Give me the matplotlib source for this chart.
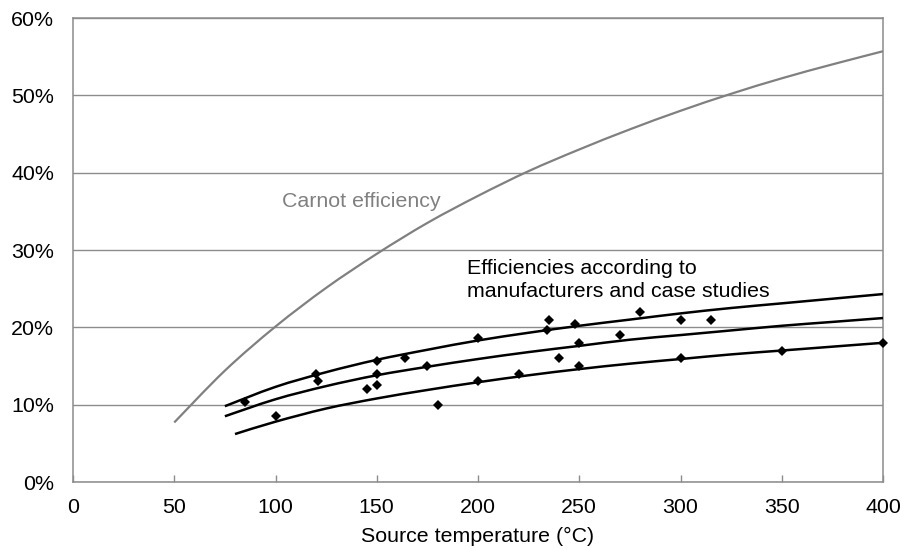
import numpy as np
import matplotlib
matplotlib.use("Agg")
import matplotlib.pyplot as plt
from matplotlib.path import Path
from matplotlib.patches import PathPatch
from matplotlib.ticker import FuncFormatter

plt.rcParams['font.family'] = ['Liberation Sans', 'DejaVu Sans']

# Carnot efficiency by source temperature (°C), in %
carnot_t = [50, 75, 100, 125, 150, 175, 200, 225, 250, 275, 300, 325, 350, 375, 400]
carnot_eff = [7.7, 14.4, 20.1, 25.1, 29.5, 33.5, 37.0, 40.2, 43.0, 45.6, 48.0, 50.2, 52.2, 54.0, 55.7]

# Trend curves through the reported efficiencies, in %
upper_t = [75, 100, 125, 150, 175, 200, 225, 250, 275, 300, 325, 350, 375, 400]
upper_eff = [9.8, 12.3, 14.2, 15.8, 17.1, 18.3, 19.3, 20.2, 21.0, 21.8, 22.5, 23.1, 23.7, 24.3]

middle_t = [75, 100, 125, 150, 175, 200, 225, 250, 275, 300, 325, 350, 375, 400]
middle_eff = [8.5, 10.7, 12.4, 13.8, 14.9, 15.9, 16.8, 17.6, 18.4, 19.0, 19.6, 20.2, 20.7, 21.2]

lower_t = [80, 100, 125, 150, 175, 200, 225, 250, 275, 300, 325, 350, 375, 400]
lower_eff = [6.2, 7.8, 9.5, 10.8, 11.9, 12.9, 13.8, 14.6, 15.3, 15.9, 16.5, 17.0, 17.5, 18.0]

# Efficiencies according to manufacturers and case studies
case_t = [85, 100, 120, 121, 145, 150, 150, 150, 164, 175, 180, 200, 200,
          220, 234, 235, 240, 248, 250, 250, 270, 280, 300, 300, 315, 350, 400]
case_eff = [10.3, 8.5, 14.0, 13.0, 12.0, 15.6, 14.0, 12.5, 16.0, 15.0, 10.0, 18.6, 13.0,
            14.0, 19.7, 21.0, 16.0, 20.4, 18.0, 15.0, 19.0, 22.0, 21.0, 16.0, 21.0, 17.0, 18.0]

x_ticks = [0, 50, 100, 150, 200, 250, 300, 350, 400]
y_ticks = [0, 10, 20, 30, 40, 50, 60]

FS = 15.4


def smooth_path(xs, ys):
    """Catmull-Rom curve through the given points, as cubic Bezier segments."""
    pts = np.column_stack([xs, ys]).astype(float)
    n = len(pts)
    verts = [pts[0]]
    codes = [Path.MOVETO]
    for i in range(n - 1):
        p0 = pts[i - 1] if i > 0 else pts[i]
        p1 = pts[i]
        p2 = pts[i + 1]
        p3 = pts[i + 2] if i + 2 < n else pts[i + 1]
        c1 = p1 + (p2 - p0) / 6.0
        c2 = p2 - (p3 - p1) / 6.0
        verts += [c1, c2, p2]
        codes += [Path.CURVE4] * 3
    return Path(np.array(verts), codes)


fig = plt.figure(figsize=(9.03, 5.5), dpi=100)
ax = fig.add_axes([73 / 903, 68 / 550, 810 / 903, 464 / 550])

grid_c = '#8c8c8c'
ax.set_xlim(0, 400)
ax.set_ylim(0, 60)
ax.set_xticks(x_ticks)
ax.set_yticks(y_ticks)
ax.yaxis.set_major_formatter(FuncFormatter(lambda v, p: f"{v:.0f}%"))
ax.yaxis.grid(True, color=grid_c, linewidth=1.0)
ax.set_axisbelow(True)
for s in ax.spines.values():
    s.set_color(grid_c)
    s.set_linewidth(1.1)
ax.tick_params(axis='x', direction='in', length=5, width=1.0, color=grid_c,
               labelsize=FS, pad=11.5, top=False)
ax.tick_params(axis='y', direction='in', length=0, labelsize=FS, pad=13.5)

ax.add_patch(PathPatch(smooth_path(carnot_t, carnot_eff), fill=False,
                       edgecolor='#808080', linewidth=1.6, capstyle='butt', zorder=3))
for t, e in [(upper_t, upper_eff), (middle_t, middle_eff), (lower_t, lower_eff)]:
    ax.add_patch(PathPatch(smooth_path(t, e), fill=False, edgecolor='black',
                           linewidth=1.8, capstyle='butt', zorder=3))

ax.plot(case_t, case_eff, linestyle='none', marker='D', markersize=4.6,
        markeredgewidth=0, color='black', zorder=4, clip_on=False)

ax.text(103, 35.6, "Carnot efficiency", fontsize=FS, color='#808080', va='baseline')
ax.text(194.4, 26.9, "Efficiencies according to", fontsize=FS, color='black', va='baseline')
ax.text(194.4, 23.9, "manufacturers and case studies", fontsize=FS, color='black', va='baseline')

ax.set_xlabel("Source temperature (°C)", fontsize=FS, labelpad=7.5)

fig.savefig("out.png", dpi=100)
